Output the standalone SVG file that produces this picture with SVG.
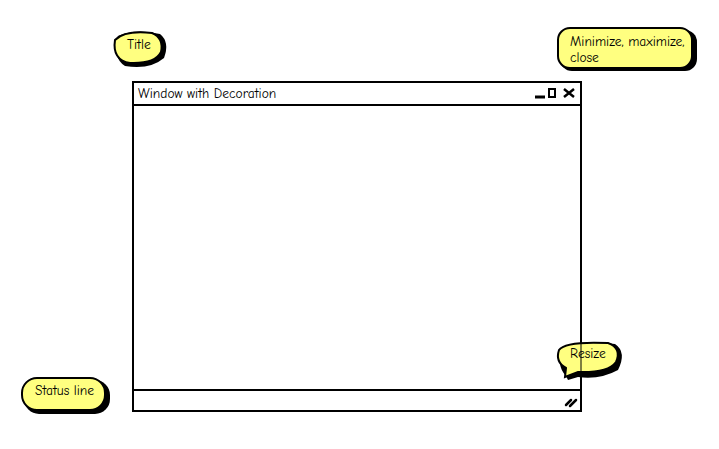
<svg xmlns="http://www.w3.org/2000/svg" width="719" height="449" viewBox="0 0 719 449">
<style>
.win{fill:#fff;stroke:#000;stroke-width:2}
.ln{stroke:#000;stroke-width:2;fill:none}
.sh{fill:#000}
.bub{fill:#ffff80;stroke:#000;stroke-width:2}
.t{font-family:"Comic Neue","Liberation Sans",sans-serif;font-size:13.5px;fill:#000}
</style>
<rect width="719" height="449" fill="#fff"/>
<g id="window">
<rect class="win" x="133" y="82" width="448" height="329"/>
<line class="ln" x1="133" y1="105" x2="581" y2="105"/>
<line class="ln" x1="133" y1="390" x2="581" y2="390"/>
<text class="t" x="138" y="98">Window with Decoration</text>
<line x1="535" y1="97" x2="545" y2="97" stroke="#000" stroke-width="3"/>
<rect x="549" y="89" width="6" height="8" fill="none" stroke="#000" stroke-width="2"/>
<path d="M564 89 L574 97 M574 89 L564 97" stroke="#000" stroke-width="2.5" fill="none"/>
<path d="M566 405 L571 400 M570 406 L576 400" stroke="#000" stroke-width="2.5" stroke-linecap="round" fill="none"/>
</g>
<g id="title-note">
<path class="sh" d="M118 36 Q135 28 160 34 Q170 42 164 58 Q150 70 125 66 Q112 58 118 36 Z"/>
<path class="bub" d="M115 40 Q125 30 152 33 Q164 38 161 52 Q155 64 130 63 Q112 60 115 40 Z"/>
<text class="t" x="127" y="49">Title</text>
</g>
<g id="minimize-note">
<rect class="sh" x="560" y="30" width="137" height="41" rx="12"/>
<rect class="bub" x="558" y="28" width="134" height="40" rx="12"/>
<text class="t" x="570" y="46">Minimize, maximize,</text>
<text class="t" x="570" y="62">close</text>
</g>
<g id="resize-note">
<path class="sh" d="M562 347 Q580 340 615 344 Q627 352 618 370 Q600 380 578 377 L568 380 L566 376 Q556 366 562 347 Z"/>
<path class="bub" d="M559 350 Q565 341 608 343 Q622 348 616 362 Q608 373 578 372 L565 377 L566 368 Q555 362 559 350 Z"/>
<line x1="581" y1="343" x2="581" y2="372" stroke="#000" stroke-width="2" stroke-opacity="0.5"/>
<text class="t" x="570" y="358">Resize</text>
</g>
<g id="status-note">
<rect class="sh" x="24" y="380" width="86" height="34" rx="15"/>
<rect class="bub" x="22" y="378" width="83" height="32" rx="15"/>
<text class="t" x="35" y="395">Status line</text>
</g>
<g id="connectors"/>
</svg>
